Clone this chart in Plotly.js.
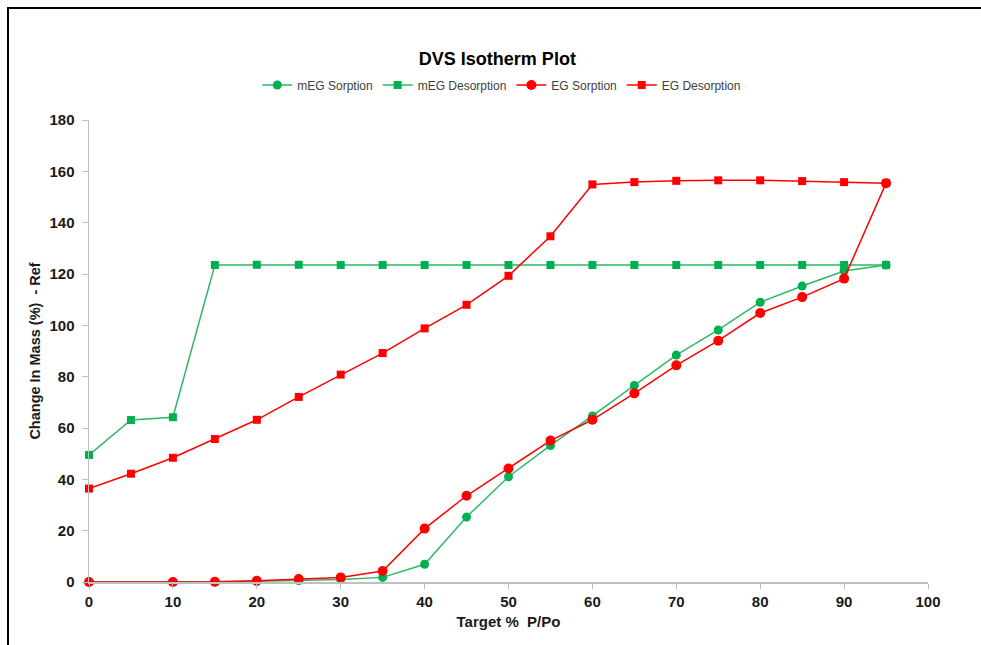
<!DOCTYPE html>
<html>
<head>
<meta charset="utf-8">
<script src="https://cdn.plot.ly/plotly-3.0.1.min.js"></script>
<style>
  html, body { margin: 0; padding: 0; background: #fff; }
  #wrap { position: relative; width: 981px; height: 645px; overflow: hidden; }
  #chart { position: absolute; left: 0; top: 0; width: 981px; height: 645px; }
  #frame { position: absolute; left: 7px; top: 7px; width: 990px; height: 660px;
           border-left: 2px solid #000; border-top: 2px solid #000; pointer-events: none; }
</style>
</head>
<body>
<div id="wrap"><div id="chart"></div><div id="frame"></div></div>
<script>
// Target % P/Po
const sorptionX = [0, 10, 15, 20, 25, 30, 35, 40, 45, 50, 55, 60, 65, 70, 75, 80, 85, 90, 95];
const desorptionX = [95, 90, 85, 80, 75, 70, 65, 60, 55, 50, 45, 40, 35, 30, 25, 20, 15, 10, 5, 0];

const mEGSorption = [0, 0, 0, 0.3, 0.6, 1.0, 1.8, 6.9, 25.3, 41.0, 53.2, 64.7, 76.6, 88.4, 98.2, 109.0, 115.3, 121.2, 123.5];
const mEGDesorption = [123.5, 123.5, 123.5, 123.5, 123.5, 123.5, 123.5, 123.5, 123.5, 123.5, 123.5, 123.5, 123.5, 123.5, 123.6, 123.6, 123.5, 64.2, 63.1, 49.5];
const EGSorption = [0, 0, 0.1, 0.5, 1.2, 1.8, 4.3, 20.8, 33.6, 44.2, 55.1, 63.2, 73.5, 84.4, 94.0, 104.8, 111.0, 118.2, 155.4];
const EGDesorption = [155.4, 155.8, 156.2, 156.5, 156.5, 156.3, 155.8, 154.9, 134.7, 119.3, 108.0, 98.8, 89.2, 80.8, 72.1, 63.2, 55.7, 48.4, 42.2, 36.4];

const names = ["mEG Sorption", "mEG Desorption", "EG Sorption", "EG Desorption"];
const green = "#00B050", greenLine = "#2DB863", red = "#FF0000";

const traces = [
  { x: desorptionX, y: mEGDesorption, name: names[1], legendrank: 2,
    mode: "lines+markers", line: { color: greenLine, width: 1.5 },
    marker: { symbol: "square", size: 8, color: green }, cliponaxis: false },
  { x: desorptionX, y: EGDesorption, name: names[3], legendrank: 4,
    mode: "lines+markers", line: { color: red, width: 1.5 },
    marker: { symbol: "square", size: 8, color: red }, cliponaxis: false },
  { x: sorptionX, y: mEGSorption, name: names[0], legendrank: 1,
    mode: "lines+markers", line: { color: greenLine, width: 1.5 },
    marker: { symbol: "circle", size: 9, color: green }, cliponaxis: false },
  { x: sorptionX, y: EGSorption, name: names[2], legendrank: 3,
    mode: "lines+markers", line: { color: red, width: 1.5 },
    marker: { symbol: "circle", size: 10, color: red }, cliponaxis: false }
];

const fam = "Liberation Sans, Arial, sans-serif";
const tickFont = { family: fam, size: 15, color: "#1a1a1a", weight: 700 };

const layout = {
  width: 981, height: 645,
  margin: { l: 89, r: 53, t: 120, b: 63, autoexpand: false },
  paper_bgcolor: "#fff", plot_bgcolor: "#fff",
  title: { text: "DVS Isotherm Plot", x: 0.507, xanchor: "center", xref: "container",
           y: 1 - 59 / 645, yanchor: "middle", yref: "container",
           font: { family: fam, size: 18, color: "#000", weight: 700 } },
  showlegend: true,
  legend: { orientation: "h", x: 0.492, xanchor: "center",
            y: 1.0758, yanchor: "middle", font: { family: fam, size: 12, color: "#404040" },
            itemwidth: 30, traceorder: "normal" },
  xaxis: { range: [0, 100], dtick: 10, tick0: 0, showgrid: false, zeroline: false,
           showline: true, linecolor: "#BFBFBF", linewidth: 1.5,
           ticks: "outside", ticklen: 5, tickcolor: "#BFBFBF", tickfont: tickFont,
           title: { text: "Target %  P/Po", standoff: 8,
                    font: { family: fam, size: 15, color: "#1a1a1a", weight: 700 } } },
  yaxis: { range: [0, 180], dtick: 20, tick0: 0, showgrid: false, zeroline: false,
           showline: true, linecolor: "#BFBFBF", linewidth: 1.5,
           ticks: "outside", ticklen: 6, tickcolor: "#BFBFBF", tickfont: tickFont,
           ticklabelstandoff: 4,
           title: { text: "Change In Mass (%)  - Ref", standoff: 5,
                    font: { family: fam, size: 14.5, color: "#1a1a1a", weight: 700 } } }
};

Plotly.newPlot("chart", traces, layout, { displayModeBar: false, staticPlot: true });
</script>
</body>
</html>
